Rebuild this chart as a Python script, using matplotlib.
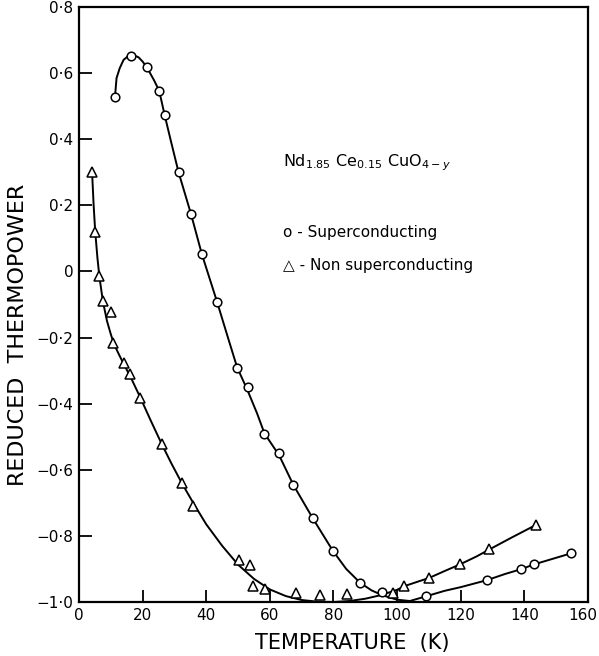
import matplotlib
matplotlib.use("Agg")
import matplotlib.pyplot as plt
import matplotlib.transforms as mtransforms

# measured points, superconducting sample (circles)
sc_temp = [11.3, 16.2, 21.3, 25.2, 26.9, 31.3, 35.2, 38.6, 43.4, 49.7, 53.0,
           58.3, 62.9, 67.4, 73.5, 79.8, 88.4, 95.4, 109.0, 128.2, 138.9,
           143.1, 154.6]
sc_power = [0.527, 0.653, 0.618, 0.547, 0.474, 0.300, 0.174, 0.053, -0.092,
            -0.293, -0.349, -0.492, -0.549, -0.646, -0.747, -0.845, -0.942,
            -0.970, -0.983, -0.934, -0.901, -0.886, -0.853]

# measured points, non superconducting sample (triangles)
nsc_temp = [4.1, 5.1, 6.4, 7.5, 10.0, 10.7, 14.2, 16.0, 19.2, 26.0, 32.3,
            35.9, 50.4, 53.7, 54.7, 58.6, 68.2, 75.7, 84.4, 98.8, 102.2,
            110.1, 119.8, 129.0, 143.6]
nsc_power = [0.302, 0.120, -0.015, -0.090, -0.122, -0.216, -0.278, -0.310,
             -0.382, -0.522, -0.640, -0.710, -0.874, -0.887, -0.951, -0.962,
             -0.972, -0.979, -0.977, -0.974, -0.951, -0.927, -0.886, -0.841,
             -0.767]

# hand drawn guide curves
sc_curve_t = [11.3, 11.8, 12.8, 14.0, 15.5, 17.0, 18.7, 20.0, 21.3, 23.5,
              25.2, 26.9, 29.0, 31.3, 35.2, 38.6, 43.4, 46.5, 49.7, 53.0,
              56.0, 58.3, 62.9, 67.4, 73.5, 79.8, 84.0, 88.4, 92.0, 95.5,
              100.0, 104.0, 109.0, 115.0, 120.0, 128.2, 134.0, 138.9, 143.1,
              154.6]
sc_curve_y = [0.527, 0.585, 0.615, 0.640, 0.652, 0.655, 0.648, 0.635, 0.618,
              0.580, 0.547, 0.474, 0.390, 0.300, 0.174, 0.053, -0.092, -0.190,
              -0.290, -0.360, -0.430, -0.490, -0.556, -0.646, -0.747, -0.845,
              -0.900, -0.942, -0.965, -0.980, -0.993, -0.997, -0.983, -0.966,
              -0.955, -0.934, -0.915, -0.901, -0.886, -0.853]

nsc_curve_t = [4.1, 4.6, 5.1, 5.8, 6.4, 7.5, 8.8, 10.0, 11.0, 12.5, 14.2,
               16.0, 19.2, 22.5, 26.0, 29.0, 32.3, 35.9, 40.0, 45.0, 50.0,
               55.0, 60.0, 65.0, 70.0, 75.0, 80.0, 85.0, 90.0, 95.0, 100.0,
               102.3, 106.0, 110.1, 115.0, 119.8, 125.0, 129.0, 136.0, 143.6]
nsc_curve_y = [0.302, 0.200, 0.120, 0.040, -0.015, -0.090, -0.150, -0.190,
               -0.220, -0.250, -0.283, -0.315, -0.380, -0.450, -0.522, -0.580,
               -0.640, -0.700, -0.765, -0.830, -0.887, -0.930, -0.962, -0.982,
               -0.994, -0.999, -1.000, -0.997, -0.990, -0.979, -0.963, -0.952,
               -0.940, -0.927, -0.906, -0.886, -0.862, -0.841, -0.805, -0.767]

x_ticks = [0, 20, 40, 60, 80, 100, 120, 140, 160]
y_ticks = [0.8, 0.6, 0.4, 0.2, 0, -0.2, -0.4, -0.6, -0.8, -1.0]
y_tick_labels = ["0\u00b78", "0\u00b76", "0\u00b74", "0\u00b72", "0",
                 "\u22120\u00b72", "\u22120\u00b74", "\u22120\u00b76",
                 "\u22120\u00b78", "\u22121\u00b70"]

fig = plt.figure(figsize=(5.99, 6.56), dpi=100)
ax = fig.add_axes([0.1319, 0.0823, 0.8497, 0.907])

ax.plot(sc_curve_t, sc_curve_y, color="black", lw=1.4)
ax.plot(nsc_curve_t, nsc_curve_y, color="black", lw=1.4)
ax.plot(sc_temp, sc_power, "o", ms=6.2, mfc="white", mec="black", mew=1.1)
ax.plot(nsc_temp, nsc_power, "^", ms=6.8, mfc="white", mec="black", mew=1.1)

ax.set_xlim(0, 160)
ax.set_ylim(-1.0, 0.8)
ax.set_xticks(x_ticks)
ax.set_yticks(y_ticks)
ax.set_yticklabels(y_tick_labels)
ax.tick_params(direction="in", length=9, width=1.3, labelsize=11, pad=4)
for s in ax.spines.values():
    s.set_linewidth(1.6)

# last x label sits against the right edge of the page
last = ax.get_xticklabels()[-1]
last.set_transform(last.get_transform() +
                   mtransforms.ScaledTranslation(-4 / 72, 0, fig.dpi_scale_trans))

ax.text(64.2, 0.33, r"Nd$_{1.85}$ Ce$_{0.15}$ CuO$_{4-y}$", fontsize=11.5,
        va="center", ha="left")
ax.text(64.2, 0.119, "o - Superconducting", fontsize=11, va="center")
ax.text(64.2, 0.019, "\u25b3 - Non superconducting", fontsize=11, va="center")

fig.text(0.588, 0.004, "TEMPERATURE  (K)", fontsize=15, ha="center", va="bottom")
fig.text(0.030, 0.49, "REDUCED  THERMOPOWER", fontsize=16, rotation=90,
         ha="center", va="center")

plt.savefig("out.png", dpi=100)
